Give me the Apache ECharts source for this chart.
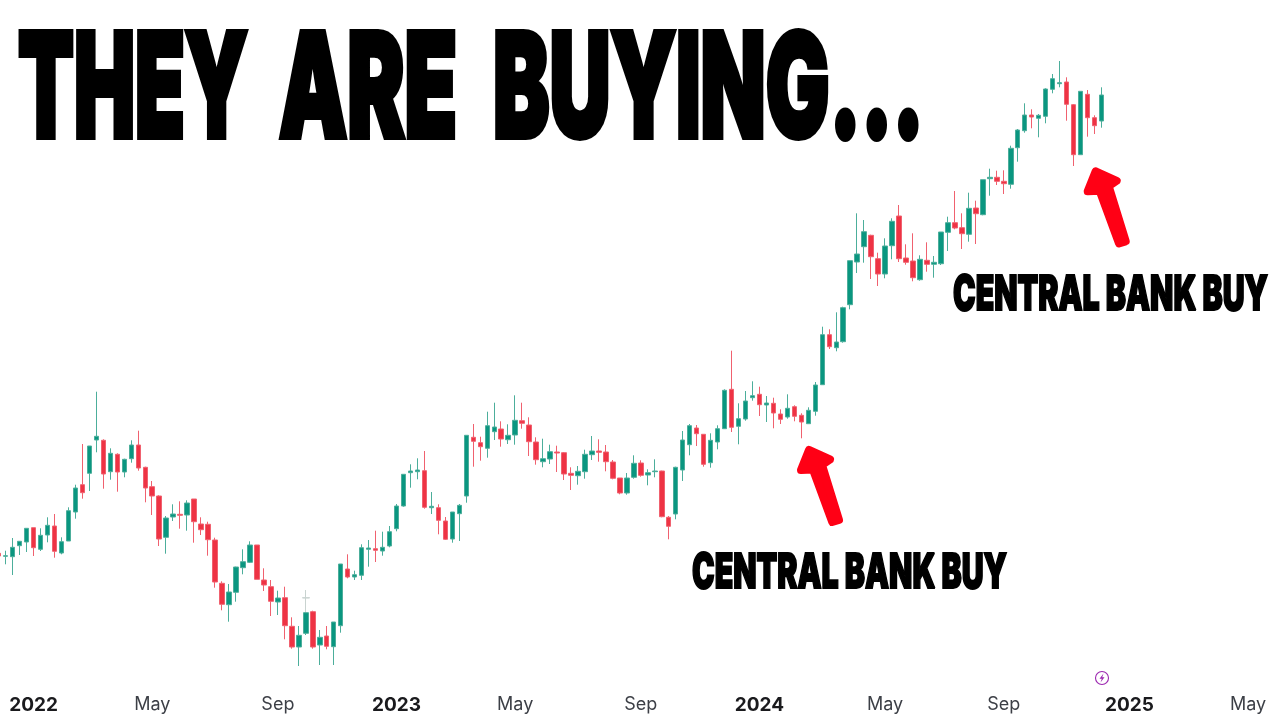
<!DOCTYPE html>
<html>
<head>
<meta charset="utf-8">
<style>html,body{margin:0;padding:0;background:#fff}#c{width:1280px;height:720px}</style>
<script src="https://cdn.jsdelivr.net/npm/echarts@6/dist/echarts.min.js"></script>
</head>
<body>
<div id="c"></div>
<script>
const titleWords = ['THEY','ARE','BUYING...'];
const noteText = 'CENTRAL BANK BUY';
const firstWeek = '2021-11-29';
const weekCount = 188;
const tickWeeks = {'2022-01-03':'2022','2022-05-02':'May','2022-09-05':'Sep','2023-01-02':'2023','2023-05-01':'May','2023-09-04':'Sep','2024-01-01':'2024','2024-05-06':'May','2024-09-02':'Sep','2025-01-06':'2025','2025-05-05':'May'};
const faintWeek = '2022-10-03';
const faintCandle = [122,122.3,107,130];

const opens = [166.7,163.7,163.3,174.3,178,192.3,170.7,185,194,167,179,208,235.3,246.7,280,279.7,248.3,265.7,248,261.3,275,252.7,233.3,224,182.7,203,205.7,205,221,196,195.7,180,136.7,115.3,127.7,152.3,157.7,175,140,133.3,118,122.3,93.7,73,86.7,108.3,75,84,73.3,94.3,151,143,144.7,170.7,171.3,169,174,191.3,214,247.3,248.3,249.3,212.3,212.3,199,181,206.3,224,282.7,277.3,271.7,288.3,291,280.3,285,299.3,295,278,258.3,261,268,267.3,246.7,244.3,248.3,265.3,269,268,258,242,227,242.7,257,245,248.3,249,202.7,206,250,275.3,292,285.7,257.3,278,291.3,330.7,293.7,301,322.3,325.7,315,316.7,306,303,313.3,304.7,296.3,308.7,335.3,385.3,372.3,378.3,415.3,458,473.3,484.7,461.3,446,474.3,504,462,459,440.3,459.7,455.7,456.3,487.7,497.3,492.3,485.7,512,505.3,541.3,542.7,538.7,535.7,572.3,589.3,605,601.7,603.7,630.7,636.3,638,615.3,565.3,625.7,602.3,599];
const closes = [164,164.3,172.7,178.7,191.7,172.3,184.7,194.7,168.7,178.3,209.3,232,227.3,274,283.7,246,266.7,248,260.7,275,252,232,224,181,202,206,204.7,217,198.3,190.3,180.3,138,115.7,128,153,158.3,175,140.7,135,118.7,122,94.3,73,84.7,107.3,73,82.7,73.7,98,156,143,145.3,172.3,172,169.7,172.7,188.3,214,245.7,249,250,212.7,213.7,199.7,180.7,208,214.7,284.7,278.7,273.3,294.3,293,281,284.7,299.7,296.7,278.3,260.3,261.3,268.3,267,246,244.7,248.7,265.7,269,267.7,258.3,241.7,227,242,256.7,244.7,247.3,249,203.3,193.7,252.7,280,294.3,286.3,255.7,279.7,291.3,329.7,292.7,301.3,319,324.3,315.3,317,307,300.7,311.7,303.7,298,309.7,335,385.3,373.3,378,412.3,459.3,466,488.3,463.3,446,474,498.7,461.3,457.7,442.3,460.7,455.7,457.7,488,497.3,492,486.3,511.7,506.3,540.3,542.7,538.7,536.3,571.7,590,605,603,604.7,631,641.3,637.3,615.7,565.3,628.7,602.3,594.3,625];
const lows = [164,155.7,145,165,168,164,169,177.7,162.3,165.7,179,201.3,221.3,229,267.7,231.3,240.3,228.3,242.7,257.3,249.3,217.7,205,174,166.3,199,191.3,189.3,177.3,185,164.3,132.3,109.7,98.3,118.3,145.7,157,140.7,129,104,105,80.7,71.3,54,85,71.3,55,70.7,55,87.3,141.7,140,140,153.3,158,164.3,172.7,188.7,213.3,232.3,240.7,211.3,206,185.7,180,177.3,179,217.3,253.3,259.3,262.3,280,273.3,276,275.3,291.3,264,255.3,252.7,256,248,240,230,235.3,241.3,260,258.3,248.7,240.7,225.7,225.3,241.3,243.3,234.7,242.7,202.7,180.7,200.7,239,264.7,274,253.3,252.3,270.7,291.3,288,275.7,299.3,319.3,304,298,291.7,296,301.3,298.7,281.7,296.3,304.3,335.3,371,368.7,377.3,410.7,447,457.3,441,434,441.7,460.7,458,455.3,438.7,439.3,448.3,442.3,455,469,490.7,471,478.3,476,504.7,524.3,535,526,531.3,558.3,587.3,591.7,582.7,596.7,626.7,632.7,599.3,554,565.3,583.3,586,592.3];
const highs = [166.7,169.3,182,178.7,191.7,192.3,191.7,202.7,206,182.7,212.7,235.3,276,274,328.3,280.7,271.7,266.7,261.3,279.7,289.3,253.3,239,224.7,204,215.7,218.7,219.7,221,202.7,198.3,182.3,138.7,136,153.3,170.7,178.7,175,151.7,140,129.3,133.3,102.7,94,107.3,109.3,90,94,98,156,165.7,149.3,175.7,180,189.3,188.3,194,216,246,255.7,261.7,269,228,215.7,203,208,216,284.7,296,283.3,308.3,317.3,298.7,295.7,324.7,317.3,302.7,282.7,281.3,275.3,274.3,268,252.7,254,270.3,284,280.7,275,260,242,247,264.7,259.7,250.7,260.7,249.3,204,253.3,289,296,295,285.7,286.7,294.7,330.7,369.3,316.7,329,338.7,333.3,324,322.3,310.7,325.7,314.7,306.7,312.7,338,393.3,390.7,407.7,413.3,459.3,506.7,500,485.3,467.3,481.7,501.7,515,475.7,486.7,464.7,477.7,464,488,503.3,529,506.7,527.3,519.3,540.3,551.3,549.3,549.7,574.3,591,616.7,610.7,606,631.7,646,659,642.7,616,628.7,630,604.7,632.7];

const UP = '#0A9680', DOWN = '#EE3344', UP_EDGE = '#4CAE9B', DOWN_EDGE = '#F0616F';

const weeks = [];
{ const d = new Date(firstWeek + 'T00:00:00Z');
  for (let i = 0; i < weekCount; i++) { weeks.push(d.toISOString().slice(0,10)); d.setUTCDate(d.getUTCDate()+7); } }
const candleData = opens.map((o,i)=>[o,closes[i],lows[i],highs[i]]);
const faintData = weeks.map(w => w === faintWeek ? faintCandle : ['-','-','-','-']);

const ctx = document.createElement('canvas').getContext('2d');
function fitText(text, font, left, right, midY, extra) {
  ctx.font = font;
  const w = ctx.measureText(text).width;
  return {
    type:'text', x:left, y:midY, scaleX:(right-left)/w, scaleY:1, z:50,
    style:{text, font, fill:'#000', x:0, y:0, textAlign:'left', textVerticalAlign:'middle', stroke:'#000', lineWidth:extra, lineJoin:'miter'}
  };
}
const arrowShape = [[809,450],[830,459.5],[822,465],[839,520],[832.3,522],[813,469.5],[801,470]];
function arrow(dx, dy) {
  return {type:'polygon', z:60, shape:{points:arrowShape.map(p=>[p[0]+dx,p[1]+dy])}, style:{fill:'#FF0015', stroke:'#FF0015', lineWidth:8, lineJoin:'round'}};
}
const chart = echarts.init(document.getElementById('c'), null, {renderer:'canvas'});
chart.setOption({
  animation:false,
  backgroundColor:'#fff',
  grid:{left:-4.8, top:0, width:1312.2, height:690, outerBoundsMode:'none', containLabel:false},
  xAxis:{type:'category', data:weeks, boundaryGap:true,
    axisLine:{show:false}, axisTick:{show:false}, splitLine:{show:false},
    axisLabel:{show:true, margin:6, hideOverlap:false, interval:(i,v)=>tickWeeks[v]!==undefined,
      formatter:v=>{const t=tickWeeks[v]; return /\d/.test(t)?'{y|'+t+'}':'{m|'+t+'}';},
      rich:{y:{fontFamily:'Inter, sans-serif', fontSize:19, fontWeight:700, color:'#1a1a1d'}, m:{fontFamily:'Inter, sans-serif', fontSize:18, fontWeight:400, color:'#3c3f46'}}}},
  yAxis:{type:'value', min:30, max:720, show:false, splitLine:{show:false}},
  series:[
    {type:'candlestick', data:faintData, barWidth:7, z:1,
      itemStyle:{color:'#C9D3D0', color0:'#C9D3D0', borderColor:'#C9D3D0', borderColor0:'#C9D3D0', borderWidth:1}},
    {type:'candlestick', data:candleData, barWidth:5, z:2,
      itemStyle:{color:UP, color0:DOWN, borderColor:UP_EDGE, borderColor0:DOWN_EDGE, borderWidth:1}}
  ],
  graphic:[
    fitText(titleWords[0],'900 144px Inter',18,248,94,6),
    fitText(titleWords[1],'900 144px Inter',279,457,94,6),
    fitText(titleWords[2],'900 144px Inter',493,924,94,6),
    fitText(noteText,'900 48px Inter',692,1007,573.5,2),
    fitText(noteText,'900 48px Inter',953,1268,295.5,2),
    arrow(0,0),
    arrow(286.7,-278.7),
    {type:'circle', z:40, shape:{cx:1102,cy:678,r:6.5}, style:{fill:'none', stroke:'#9C27B0', lineWidth:1.1}},
    {type:'polygon', z:41, shape:{points:[[1103.5,673.5],[1099.5,678.8],[1101.8,678.8],[1100.5,682.5],[1104.5,677.2],[1102.2,677.2]]}, style:{fill:'#9C27B0'}}
  ]
});
</script>
</body>
</html>
